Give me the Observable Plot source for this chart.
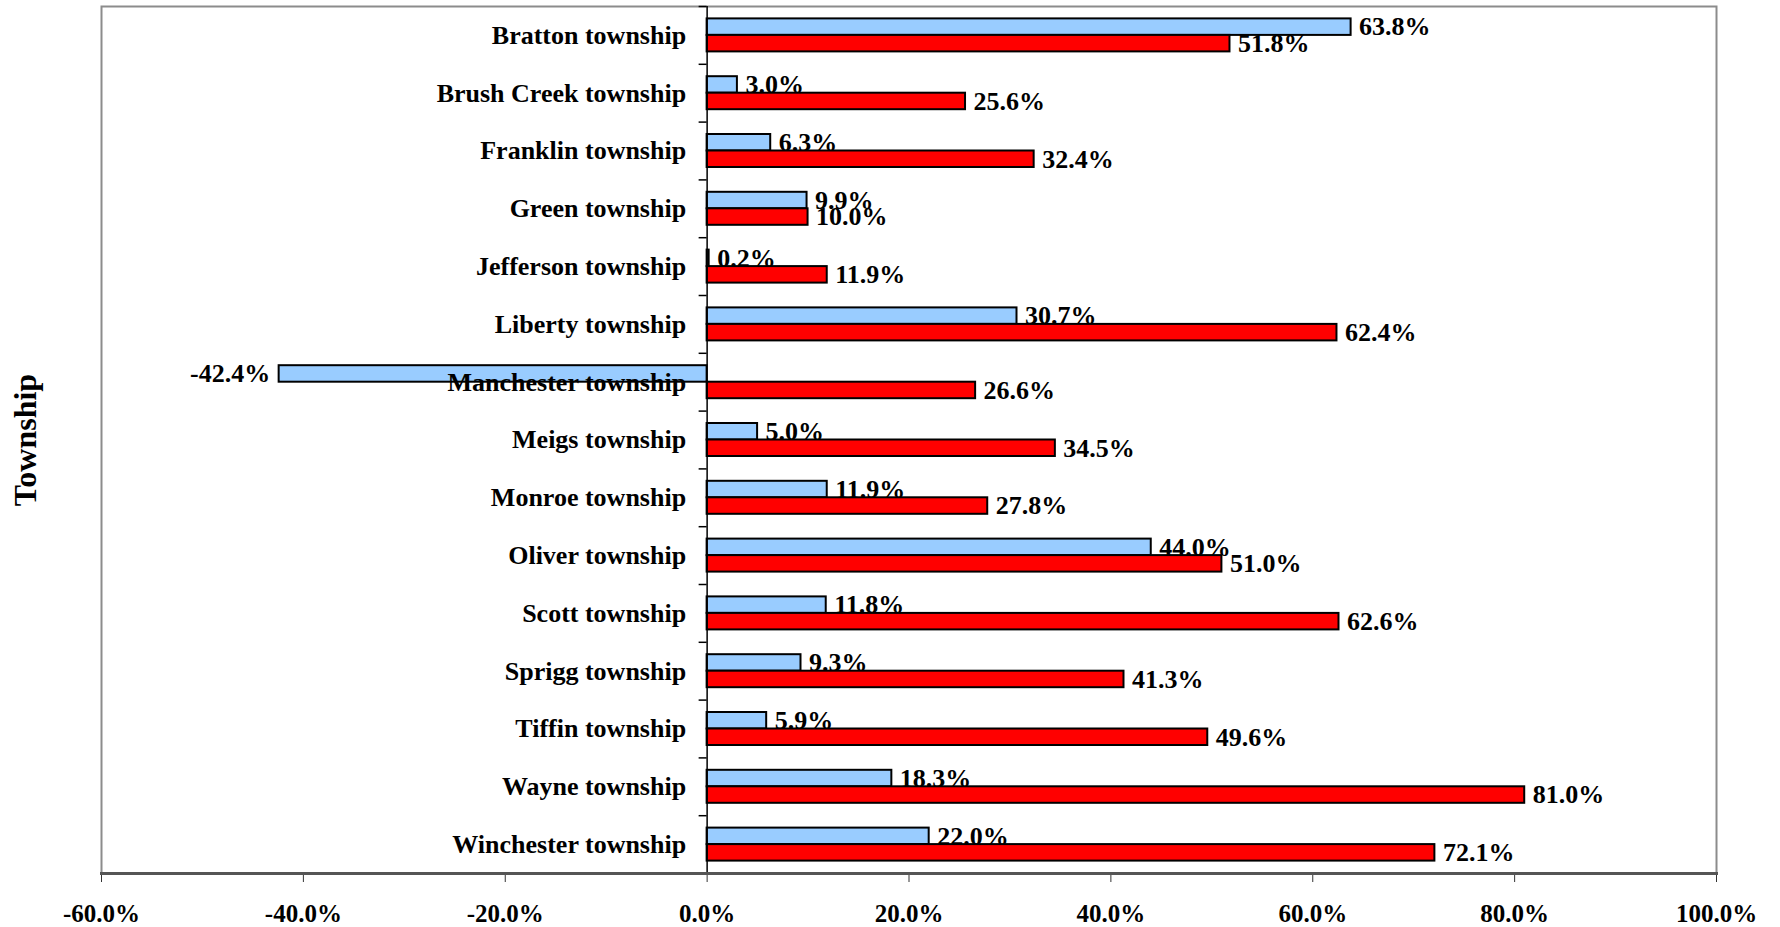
<!DOCTYPE html>
<html>
<head>
<meta charset="utf-8">
<script src="https://cdn.jsdelivr.net/npm/d3@7"></script>
<script src="https://cdn.jsdelivr.net/npm/@observablehq/plot@0.6"></script>
<style>
  html, body { margin: 0; padding: 0; background: #fff; }
  #chart svg { display: block; }
</style>
</head>
<body>
<div id="chart"></div>
<script>
// ---- data ----
const townships = [
  "Bratton township", "Brush Creek township", "Franklin township", "Green township",
  "Jefferson township", "Liberty township", "Manchester township", "Meigs township",
  "Monroe township", "Oliver township", "Scott township", "Sprigg township",
  "Tiffin township", "Wayne township", "Winchester township"
];
const seriesBlue = [63.8, 3.0, 6.3, 9.9, 0.2, 30.7, -42.4, 5.0, 11.9, 44.0, 11.8, 9.3, 5.9, 18.3, 22.0];
const seriesRed  = [51.8, 25.6, 32.4, 10.0, 11.9, 62.4, 26.6, 34.5, 27.8, 51.0, 62.6, 41.3, 49.6, 81.0, 72.1];
const xTicks = [-60, -40, -20, 0, 20, 40, 60, 80, 100];
const xDomain = [-60, 100];
const yTitle = "Township";

// ---- layout ----
const W = 1780, H = 927;
const ML = 101, MR = 64, MT = 6, MB = 54;
const step = (H - MT - MB) / townships.length;
const barH = 16.5;
const outer = 12.4;
const pxPerUnit = (W - ML - MR) / (xDomain[1] - xDomain[0]);
const font = "'Liberation Serif', 'Times New Roman', serif";

const blue = townships.map((t, i) => ({t, v: seriesBlue[i]}));
const red = townships.map((t, i) => ({t, v: seriesRed[i]}));
const fmt = d => d.v.toFixed(1) + "%";
const txt = {fontSize: 26, fontWeight: "bold", fontFamily: font, fill: "black"};

const chart = Plot.plot({
  width: W,
  height: H,
  marginLeft: ML,
  marginRight: MR,
  marginTop: MT,
  marginBottom: MB,
  style: {background: "#fff", fontFamily: font},
  x: {domain: xDomain, ticks: xTicks},
  y: {domain: townships, padding: 0, round: false, axis: null},
  marks: [
    Plot.frame({stroke: "#8c8c8c", strokeWidth: 2}),
    // blue series
    Plot.barX(blue, {x: "v", y: "t", fill: "#99CCFF", stroke: "black", strokeWidth: 2,
      insetTop: outer, insetBottom: step - outer - barH}),
    Plot.text(blue.filter(d => d.v >= 0), {x: "v", y: "t", text: fmt, textAnchor: "start",
      dx: 8, dy: -(step / 2 - outer - barH / 2), ...txt}),
    Plot.text(blue.filter(d => d.v < 0), {x: "v", y: "t", text: fmt, textAnchor: "end",
      dx: -9, dy: -(step / 2 - outer - barH / 2), ...txt}),
    // red series
    Plot.barX(red, {x: "v", y: "t", fill: "#FF0000", stroke: "black", strokeWidth: 2,
      insetTop: step - outer - barH, insetBottom: outer}),
    Plot.text(red, {x: "v", y: "t", text: fmt, textAnchor: "start",
      dx: 8, dy: (step / 2 - outer - barH / 2), ...txt}),
    // category labels
    Plot.text(townships, {x: 0, y: d => d, text: d => d, textAnchor: "end", dx: -21, ...txt}),
    // zero axis line and category boundary ticks
    Plot.ruleX([0], {stroke: "black", strokeWidth: 1.5}),
    Plot.ruleY(townships, {y: d => d, dy: -step / 2, x1: 0, x2: -8 / pxPerUnit, stroke: "black", strokeWidth: 1.5}),
    // x axis
    Plot.axisX({ticks: xTicks, tickSize: 9, tickPadding: 22, stroke: "#333",
      tickFormat: d => d.toFixed(1) + "%", fontSize: 25, fontWeight: "bold", fontFamily: font,
      fill: "black", label: null}),
    Plot.frame({anchor: "bottom", stroke: "#555", strokeWidth: 3}),
    // y title
    Plot.text([yTitle], {frameAnchor: "left", rotate: -90, dx: -76, textAnchor: "middle", text: d => d,
      fontSize: 32, fontWeight: "bold", fontFamily: font, fill: "black"})
  ]
});
document.getElementById("chart").appendChild(chart);
</script>
</body>
</html>
